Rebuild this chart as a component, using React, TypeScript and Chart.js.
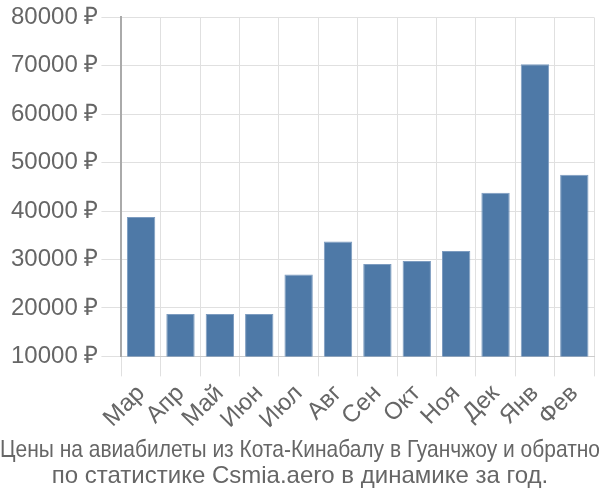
import React, { useEffect, useRef } from "react";
import { Chart, registerables } from "chart.js";

Chart.register(...registerables);

const months = ["Мар", "Апр", "Май", "Июн", "Июл", "Авг", "Сен", "Окт", "Ноя", "Дек", "Янв", "Фев"];
const prices = [38800, 18750, 18750, 18750, 26900, 33700, 29100, 29700, 31750, 43800, 70300, 47500];
const titleLines = [
  "Цены на авиабилеты из Кота-Кинабалу в Гуанчжоу и обратно",
  "по статистике Csmia.aero в динамике за год.",
];
const yMin = 10000;
const yMax = 80000;
const yStep = 10000;

export default function App() {
  const ref = useRef<HTMLCanvasElement | null>(null);
  useEffect(() => {
    document.body.style.margin = "0";
    const ctx = ref.current!.getContext("2d")!;
    const chart = new Chart(ctx, {
      type: "bar",
      data: {
        labels: months,
        datasets: [
          {
            data: prices,
            backgroundColor: "#4e79a7",
            borderColor: "#7d9cc0",
            borderWidth: 1,
          },
        ],
      },
      options: {
        responsive: false,
        animation: false,
        layout: { padding: { left: 0, right: 0, top: 3, bottom: 0 } },
        plugins: {
          legend: { display: false },
          tooltip: { enabled: false },
          title: {
            display: true,
            position: "bottom",
            text: titleLines,
            color: "#666",
            font: { family: "'Liberation Sans', Arial, sans-serif", size: 24, weight: "normal", lineHeight: 1.1 },
            padding: { top: 0, bottom: 10 },
          },
        },
        scales: {
          x: {
            grid: { color: "#e0e0e0", tickLength: 20 },
            border: { color: "#cccccc" },
            ticks: {
              color: "#666",
              autoSkip: false,
              minRotation: 45,
              maxRotation: 45,
              font: { family: "'Liberation Sans', Arial, sans-serif", size: 24 },
            },
            afterFit: (s: any) => {
              s.paddingRight = Math.max(s.paddingRight || 0, 6);
            },
          },
          y: {
            min: yMin,
            max: yMax,
            grid: { color: "#e0e0e0", tickLength: 20 },
            border: { color: "#aaaaaa", width: 2 },
            ticks: {
              stepSize: yStep,
              color: "#666",
              font: { family: "'Liberation Sans', Arial, sans-serif", size: 24 },
              callback: (v: any) => v + " ₽",
            },
            afterFit: (s: any) => {
              s.width += 8;
            },
          },
        },
      },
    });
    return () => chart.destroy();
  }, []);
  return (
    <div style={{ width: 600, height: 500 }}>
      <canvas ref={ref} width={600} height={500} />
    </div>
  );
}
